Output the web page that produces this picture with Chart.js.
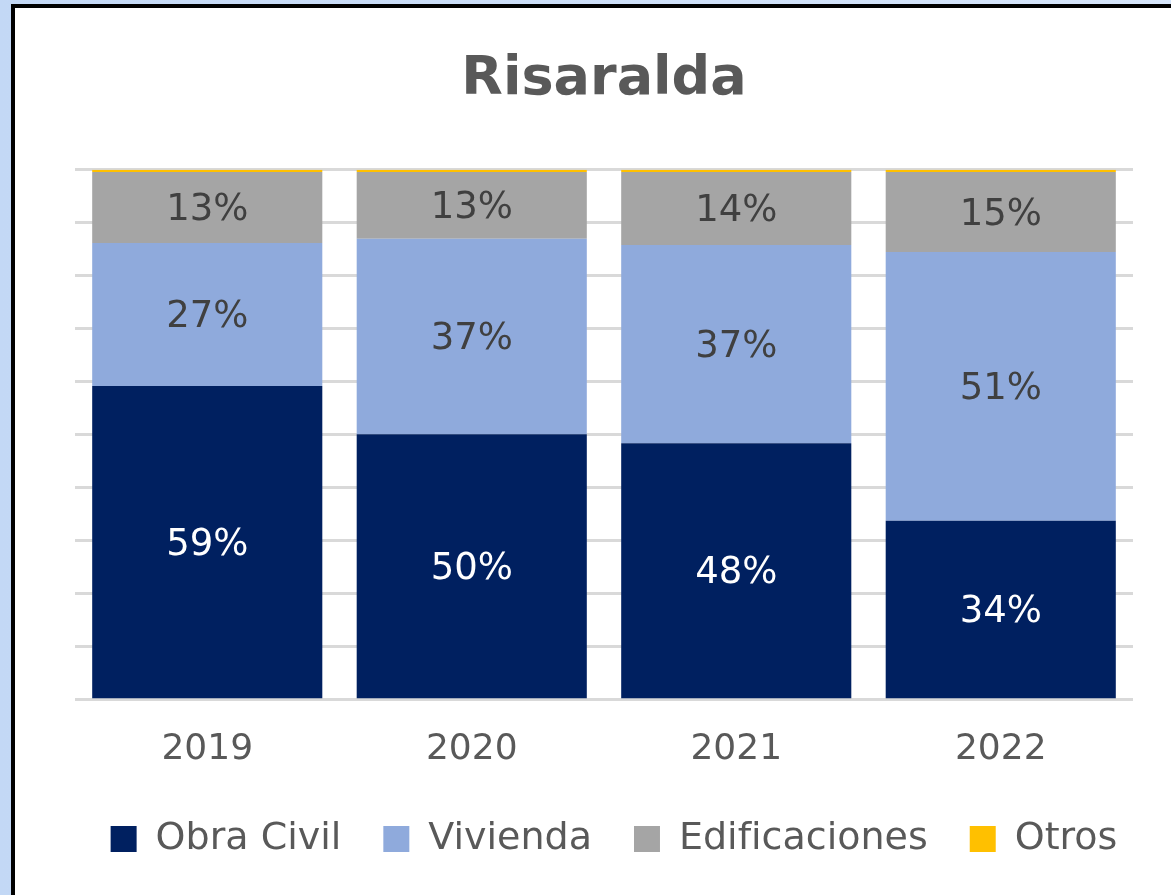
<!DOCTYPE html>
<html lang="es">
<head>
    <meta charset="utf-8"/>
    <title>Risaralda</title>
    <style>
        * {
          padding: 0;
          margin: 0;
          box-sizing: border-box;
        }

        body {
            width: 1171px;
            height: 895px;
            overflow: hidden;
            background: linear-gradient(to right, #c3d8f5, #d6e5fa);
        }

        .frame {
            position: absolute;
            left: 11px;
            top: 4px;
            width: 1200px;
            height: 950px;
            border: 4px solid #000000;
            background: #FFFFFF;
        }

        .box {
            position: absolute;
            left: 15px;
            top: 8px;
            width: 1156px;
            height: 887px;
        }
    </style>
</head>
<body>
    <div class="frame"></div>
    <div class="box">
        <canvas id="chart"></canvas>
    </div>
    <script src="https://cdn.jsdelivr.net/npm/chart.js@4.4.0/dist/chart.umd.min.js"></script>
    <script>
        const years = ["2019", "2020", "2021", "2022"];
        const obraCivil = [59.2, 50.1, 48.4, 33.8];
        const vivienda = [27.0, 36.9, 37.4, 50.7];
        const edificaciones = [13.4, 12.6, 13.8, 15.1];
        const otros = [0.4, 0.4, 0.4, 0.4];

        const font = "'DejaVu Sans', sans-serif";
        const grayText = "#595959";

        // etiquetas de porcentaje dentro de cada barra
        const barLabels = {
            id: "barLabels",
            afterDatasetsDraw(chart) {
                const ctx = chart.ctx;
                ctx.save();
                ctx.font = "37px " + font;
                ctx.textAlign = "center";
                ctx.textBaseline = "middle";
                chart.data.datasets.forEach((ds, i) => {
                    if (!ds.labelColor) return;
                    chart.getDatasetMeta(i).data.forEach((bar, j) => {
                        ctx.fillStyle = ds.labelColor;
                        ctx.fillText(Math.round(ds.data[j]) + "%", bar.x, (bar.y + bar.base) / 2 + 3);
                    });
                });
                ctx.restore();
            }
        };

        // ajustar la posicion del titulo y la leyenda sin mover el area del grafico
        const boxShift = {
            id: "boxShift",
            afterLayout(chart) {
                chart.legend.top -= 21;
                chart.legend.bottom -= 21;
                chart.legend.left += 21;
                chart.legend.right += 21;
                chart.titleBlock.left += 11;
                chart.titleBlock.right += 11;
            }
        };

        const ctx = document.getElementById("chart").getContext("2d");
        new Chart(ctx, {
            type: "bar",
            data: {
                labels: years,
                datasets: [
                    { label: "Obra Civil", data: obraCivil, backgroundColor: "#002060", labelColor: "#FFFFFF" },
                    { label: "Vivienda", data: vivienda, backgroundColor: "#8FAADC", labelColor: "#404040" },
                    { label: "Edificaciones", data: edificaciones, backgroundColor: "#A5A5A5", labelColor: "#404040" },
                    { label: "Otros", data: otros, backgroundColor: "#FFC000" }
                ]
            },
            options: {
                responsive: true,
                maintainAspectRatio: false,
                animation: false,
                datasets: {
                    bar: { barPercentage: 0.87, categoryPercentage: 1 }
                },
                layout: {
                    padding: { left: 0, right: 0, top: 0, bottom: 6 }
                },
                scales: {
                    x: {
                        stacked: true,
                        grid: { display: false, drawTicks: false, tickLength: 0 },
                        border: { display: false },
                        ticks: { color: grayText, font: { family: font, size: 36 }, padding: 28 }
                    },
                    y: {
                        stacked: true,
                        min: 0,
                        max: 100,
                        ticks: { display: false, stepSize: 10 },
                        grid: { color: "#D9D9D9", lineWidth: 3, drawTicks: false, tickLength: 0 },
                        border: { display: false },
                        afterFit(scale) { scale.width = 60; }
                    },
                    yRight: {
                        position: "right",
                        ticks: { display: false },
                        grid: { display: false, drawTicks: false, tickLength: 0 },
                        border: { display: false },
                        afterFit(scale) { scale.width = 38; }
                    }
                },
                plugins: {
                    title: {
                        display: true,
                        text: "Risaralda",
                        color: grayText,
                        font: { family: font, size: 54, weight: "bold" },
                        padding: { top: 40, bottom: 57 }
                    },
                    legend: {
                        position: "bottom",
                        labels: {
                            color: grayText,
                            font: { family: font, size: 38 },
                            boxWidth: 26,
                            boxHeight: 26,
                            padding: 42
                        }
                    },
                    tooltip: { enabled: false }
                }
            },
            plugins: [barLabels, boxShift]
        });
    </script>
</body>
</html>
